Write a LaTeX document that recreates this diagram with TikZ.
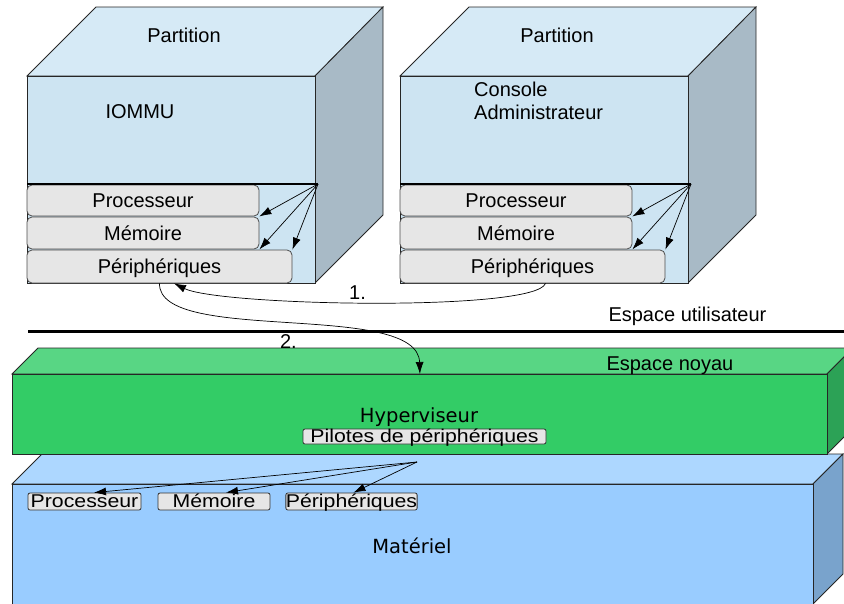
\documentclass[tikz,border=0pt]{standalone}
\usepackage[table]{xcolor}
\usepackage{fontspec}
\setmainfont{Liberation Sans}
\newfontfamily\blockfont{DejaVu Sans}
\newfontfamily\widefont[FakeStretch=1.15]{Liberation Sans}
\usepackage{tikz}
\usetikzlibrary{arrows.meta}

\definecolor{parttop}{RGB}{214,234,246}
\definecolor{partfront}{RGB}{205,228,242}
\definecolor{partside}{RGB}{168,186,198}
\definecolor{unitgray}{RGB}{230,230,230}
\definecolor{hyptop}{RGB}{88,214,132}
\definecolor{hypfront}{RGB}{51,204,102}
\definecolor{hypside}{RGB}{44,162,86}
\definecolor{hwtop}{RGB}{173,215,255}
\definecolor{hwfront}{RGB}{153,204,255}
\definecolor{hwside}{RGB}{121,163,204}

\tikzset{
  face/.style={draw=black!85, line width=0.8pt, inner sep=0pt},
  unit/.style={draw=black!70, fill=unitgray, rounded corners=5pt, inner sep=0pt,
    line width=0.8pt, text height=14pt, text depth=0pt},
  chip/.style={draw=black!80, fill=unitgray, rounded corners=2pt, inner sep=0pt,
    line width=0.8pt, font=\widefont\fontsize{18.5}{20}\selectfont, text height=12.5pt, text depth=0pt},
  link/.style={-{Latex[length=12pt,width=8pt]}, line width=0.7pt},
  blocktext/.style={font=\blockfont\fontsize{19.5}{22}\selectfont}
}

\begin{document}
\begin{tikzpicture}[x=1pt, y=-1pt, font=\fontsize{20}{23}\selectfont]
\useasboundingbox (0,0) rectangle (844,603);

% materiel
\filldraw[face, fill=hwtop] (12,484) -- (42,454) -- (843,454) -- (813,484) -- cycle;
\filldraw[face, fill=hwside] (813,484) -- (843,454) -- (843,574) -- (813,604) -- cycle;
\node[face, fill=hwfront, anchor=north west, minimum width=801pt, minimum height=122pt] (hw) at (12,484) {};
\node[blocktext, anchor=base] (hwname) at (412,553) {Matériel};

% hyperviseur
\filldraw[face, fill=hyptop] (12,374) -- (38,348) -- (853,348) -- (827,374) -- cycle;
\filldraw[face, fill=hypside] (827,374) -- (853,348) -- (853,428) -- (827,454) -- cycle;
\node[face, fill=hypfront, anchor=north west, minimum width=815pt, minimum height=80pt] (hyp) at (12,374) {};
\node[blocktext, anchor=base] (hypname) at (419,422) {Hyperviseur};
\node[chip, minimum width=243pt, minimum height=15pt] (drivers) at (424.5,436.5) {Pilotes de périphériques};

% composants materiels
\node[chip, minimum width=113pt, minimum height=17pt] (hwcpu) at (84.5,501.5) {Processeur};
\node[chip, minimum width=112pt, minimum height=17pt] (hwmem) at (214,501.5) {Mémoire};
\node[chip, minimum width=130pt, minimum height=17pt] (hwdev) at (351.5,501.5) {Périphériques};
\coordinate (drv) at (417,462);
\draw[link] (drv) -- ([xshift=9.5pt]hwcpu.north);
\draw[link] (drv) -- ([xshift=12pt]hwmem.north);
\draw[link] (drv) -- ([xshift=2pt]hwdev.north);

% partitions
\foreach \ox/\p in {27/a,400/b}{
  \filldraw[face, fill=parttop] (\ox,76) -- (\ox+69,7) -- (\ox+356,7) -- (\ox+288,76) -- cycle;
  \filldraw[face, fill=partside] (\ox+288,76) -- (\ox+356,7) -- (\ox+356,215) -- (\ox+288,283) -- cycle;
  \node[face, fill=partfront, anchor=north west, minimum width=288pt, minimum height=207pt] (part-\p) at (\ox,76) {};
  \node[anchor=base] (title-\p) at (\ox+157,42) {Partition};
  \coordinate (bus-\p) at (\ox+291,184);
  \node[unit, minimum width=232pt, minimum height=31pt] (cpu-\p) at (\ox+116,200.5) {Processeur};
  \node[unit, minimum width=232pt, minimum height=32pt] (mem-\p) at (\ox+116,233) {Mémoire};
  \node[unit, minimum width=265pt, minimum height=33pt] (dev-\p) at (\ox+132.5,266.5) {Périphériques};
  \draw[line width=2.5pt] (\ox,184) -- (bus-\p);
  \draw[link] (bus-\p) -- (cpu-\p.south east);
  \draw[link] (bus-\p) -- (mem-\p.south east);
  \draw[link] (bus-\p) -- (dev-\p.north east);
}
\node[anchor=base west] (iommu) at (102,118) {IOMMU};
\node[anchor=north west, align=left, inner sep=0pt] (console) at (474,82) {Console\\Administrateur};

% espaces
\draw[line width=3pt] (28,331) -- (844,331);
\node[anchor=base west] (userspace) at (605,321) {Espace utilisateur};
\node[anchor=base west] (kernelspace) at (603,370) {Espace noyau};

% echanges
\draw[link] ([xshift=13pt]dev-b.south) .. controls (535,312) and (220,306) .. ([xshift=14.5pt]dev-a.south)
  node[pos=.53, above=3pt, inner sep=0pt] {1.};
\draw[link] (dev-a.south) .. controls (158,345) and (418,300) .. (hyp.north)
  node[pos=.5, below=10pt, inner sep=0pt] {2.};
\end{tikzpicture}
\end{document}
